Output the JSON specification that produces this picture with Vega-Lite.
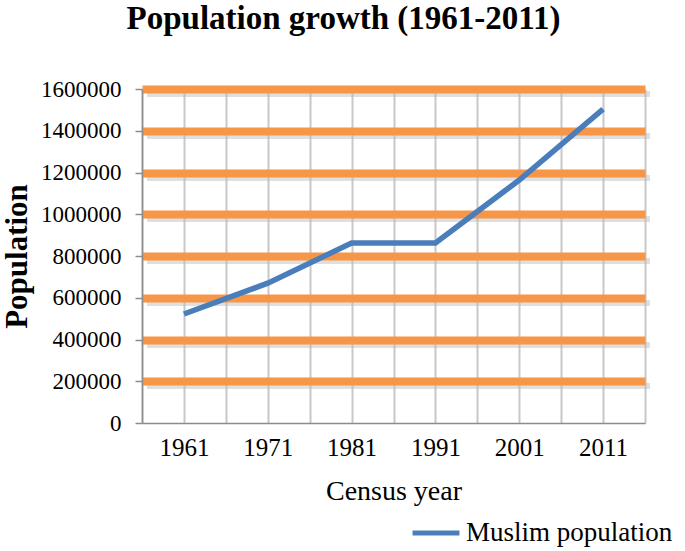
{
  "$schema": "https://vega.github.io/schema/vega-lite/v6.json",
  "autosize": "none",
  "width": 503,
  "height": 334,
  "padding": {"left": 142, "top": 89, "right": 40, "bottom": 128},
  "background": "white",
  "title": {
    "text": "Population growth (1961-2011)",
    "font": "Liberation Serif",
    "fontSize": 33,
    "fontWeight": "bold",
    "color": "black",
    "anchor": "middle",
    "frame": "group",
    "dx": -50,
    "offset": 42
  },
  "data": {
    "values": [
      {"year": 1961, "population": 522000, "series": "Muslim population"},
      {"year": 1971, "population": 670000, "series": "Muslim population"},
      {"year": 1981, "population": 862000, "series": "Muslim population"},
      {"year": 1991, "population": 862000, "series": "Muslim population"},
      {"year": 2001, "population": 1164000, "series": "Muslim population"},
      {"year": 2011, "population": 1504000, "series": "Muslim population"}
    ]
  },
  "config": {
    "view": {"stroke": null},
    "font": "Liberation Serif"
  },
  "resolve": {"axis": {"y": "independent"}},
  "encoding": {
    "x": {
      "field": "year", "type": "quantitative",
      "scale": {"domain": [1956, 2016], "nice": false, "zero": false},
      "axis": {
        "values": [1956, 1961, 1966, 1971, 1976, 1981, 1986, 1991, 1996, 2001, 2006, 2011, 2016],
        "labelExpr": "(datum.value - 1961) % 10 == 0 ? datum.label : ''",
        "format": "d",
        "title": "Census year",
        "titleFont": "Liberation Serif", "titleFontSize": 28, "titleFontWeight": "normal", "titleColor": "black", "titlePadding": 17,
        "labelFont": "Liberation Serif", "labelFontSize": 25, "labelColor": "black", "labelPadding": 12,
        "ticks": false, "domainColor": "#8c8c8c", "domainWidth": 1.5,
        "grid": true, "gridColor": "#c8c8c8", "gridWidth": 2,
        "labelFlush": false, "labelOverlap": false
      }
    }
  },
  "layer": [
    {
      "mark": {"type": "line", "opacity": 0},
      "encoding": {
        "y": {
          "field": "population", "type": "quantitative",
          "scale": {"domain": [0, 1600000], "nice": false},
          "axis": {
            "orient": "right",
            "values": [200000, 400000, 600000, 800000, 1000000, 1200000, 1400000, 1600000],
            "labels": false, "ticks": false, "domain": false, "title": null,
            "grid": true, "gridColor": "#b8b8b8", "gridOpacity": 0.45, "gridWidth": 6, "translate": 5
          }
        }
      }
    },
    {
      "mark": {"type": "line", "color": "#4A7EBB", "strokeWidth": 5.5},
      "encoding": {
        "y": {
          "field": "population", "type": "quantitative",
          "scale": {"domain": [0, 1600000], "nice": false},
          "axis": {
            "orient": "left",
            "values": [0, 200000, 400000, 600000, 800000, 1000000, 1200000, 1400000, 1600000],
            "format": "d",
            "title": "Population",
            "titleFont": "Liberation Serif", "titleFontSize": 31, "titleFontWeight": "bold", "titleColor": "black", "titlePadding": 7,
            "labelFont": "Liberation Serif", "labelFontSize": 23, "labelColor": "black", "labelPadding": 14,
            "tickColor": "#8c8c8c", "tickSize": 7, "tickWidth": 1.5,
            "domainColor": "#8c8c8c", "domainWidth": 1.5,
            "grid": true, "gridColor": "#F79646", "gridWidth": 8,
            "gridOpacity": {"expr": "datum.value == 0 ? 0 : 1"},
            "labelFlush": false, "labelOverlap": false
          }
        },
        "color": {
          "field": "series", "type": "nominal",
          "scale": {"range": ["#4A7EBB"]},
          "legend": {
            "title": null, "orient": "none", "legendX": 268, "legendY": 418,
            "symbolType": "stroke", "symbolStrokeWidth": 5, "symbolSize": 2200,
            "labelFont": "Liberation Serif", "labelFontSize": 27, "labelColor": "black", "labelLimit": 400
          }
        }
      }
    }
  ]
}
